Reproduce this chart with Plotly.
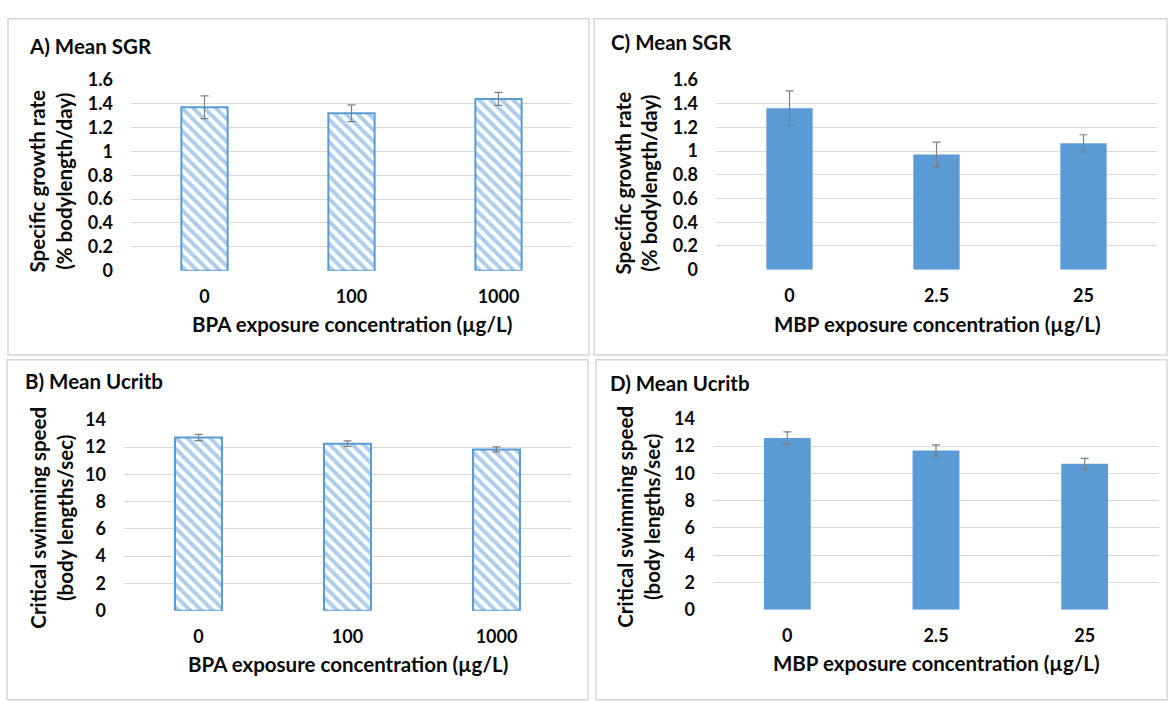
import plotly.graph_objects as go

W, H = 1168, 702

# ---- data ----
bpa_categories = ["0", "100", "1000"]
mbp_categories = ["0", "2.5", "25"]

bpa_sgr = [1.37, 1.32, 1.44]
bpa_sgr_err = [0.095, 0.07, 0.055]

mbp_sgr = [1.36, 0.97, 1.065]
mbp_sgr_err = [0.147, 0.105, 0.072]

bpa_ucrit = [12.7, 12.25, 11.83]
bpa_ucrit_err = [0.23, 0.2, 0.18]

mbp_ucrit = [12.6, 11.67, 10.7]
mbp_ucrit_err = [0.45, 0.42, 0.4]

sgr_ticks = [0, 0.2, 0.4, 0.6, 0.8, 1, 1.2, 1.4, 1.6]
ucrit_ticks = [0, 2, 4, 6, 8, 10, 12, 14]

BLUE = "#5B9BD5"
ERR = "#7f7f7f"
GRID = "#d9d9d9"
BORDER = "#d6d6d6"
TXT = "#0a0a0a"
FONT = "Lato"


def px(x):
    return x / W


def py(y):
    return 1 - y / H


fig = go.Figure()

panels = [
    # (axis suffix, cats, vals, errs, hatched, ticks, range, xdom px, ydom px)
    ("", bpa_categories, bpa_sgr, bpa_sgr_err, True, sgr_ticks, [0, 1.6], (131, 572), (267, 70)),
    ("2", mbp_categories, mbp_sgr, mbp_sgr_err, False, sgr_ticks, [0, 1.6], (716, 1157), (266, 70)),
    ("3", bpa_categories, bpa_ucrit, bpa_ucrit_err, True, ucrit_ticks, [0, 14], (124, 571), (618, 421)),
    ("4", mbp_categories, mbp_ucrit, mbp_ucrit_err, False, ucrit_ticks, [0, 14], (713, 1159), (617, 420)),
]

layout = {}
for suf, cats, vals, errs, hatched, ticks, rng, xd, yd in panels:
    if hatched:
        marker = dict(
            color="white",
            line=dict(color=BLUE, width=2),
            pattern=dict(shape="\\", fgcolor=BLUE, bgcolor="white", size=8, solidity=0.5),
        )
    else:
        marker = dict(color=BLUE, line=dict(color=BLUE, width=0))
    fig.add_trace(go.Bar(
        x=cats, y=vals, width=0.315,
        marker=marker,
        error_y=dict(type="data", array=errs, visible=True, color=ERR, thickness=1.2, width=4),
        xaxis="x" + suf, yaxis="y" + suf, showlegend=False,
    ))
    layout["xaxis" + suf] = dict(
        domain=[px(xd[0]), px(xd[1])], anchor="y" + suf, type="category",
        showgrid=False, showline=False, zeroline=False, ticks="",
        tickfont=dict(family=FONT, size=18, color=TXT, weight="bold"),
        ticklabelstandoff=13, fixedrange=True,
    )
    layout["yaxis" + suf] = dict(
        domain=[py(yd[0]), py(yd[1])], anchor="x" + suf, range=rng,
        tickvals=ticks, ticktext=[f"{t:g}" for t in ticks],
        showgrid=True, gridcolor=GRID, gridwidth=1, zeroline=False, showline=False,
        ticks="", tickfont=dict(family=FONT, size=18, color=TXT, weight="bold"),
        ticklabelstandoff=17, fixedrange=True,
    )

fig.update_layout(**layout)

# panel frames
boxes = [(8, 7, 589, 354), (594, 7, 1167, 354), (7, 359, 588, 710), (596, 359, 1167, 710)]
shapes = []
for x0, y0, x1, y1 in boxes:
    shapes.append(dict(type="rect", xref="paper", yref="paper",
                       x0=px(x0), x1=px(x1), y0=py(y1), y1=py(y0),
                       line=dict(color=BORDER, width=1.5), fillcolor="rgba(0,0,0,0)", layer="below"))

annotations = []
# panel titles
titles = [("A) Mean SGR", 27, 35), ("C) Mean SGR", 609, 31),
          ("B) Mean Ucritb", 23, 381), ("D) Mean Ucritb", 608, 383)]
for t, x, y in titles:
    annotations.append(dict(text=t, x=px(x), y=py(y), xref="paper", yref="paper",
                            xanchor="left", yanchor="middle", showarrow=False,
                            font=dict(family=FONT, size=20.5, color=TXT, weight="bold")))

# x axis titles
xtitles = [("BPA exposure concentration (µg/L)", 352, 322),
           ("MBP exposure concentration (µg/L)", 937, 322),
           ("BPA exposure concentration (µg/L)", 348, 673),
           ("MBP exposure concentration (µg/L)", 936, 672)]
for t, x, y in xtitles:
    annotations.append(dict(text=t, x=px(x), y=py(y), xref="paper", yref="paper",
                            xanchor="center", yanchor="middle", showarrow=False,
                            font=dict(family=FONT, size=20.5, color=TXT, weight="bold")))

# y axis titles
ytitles = [("Specific growth rate<br>(% bodylength/day)", 51, 175),
           ("Specific growth rate<br>(% bodylength/day)", 636, 177),
           ("Critical swimming speed<br>(body lengths/sec)", 52, 522),
           ("Critical swimming speed<br>(body lengths/sec)", 639, 521)]
for t, x, y in ytitles:
    annotations.append(dict(text=t, x=px(x), y=py(y), xref="paper", yref="paper",
                            xanchor="center", yanchor="middle", showarrow=False, textangle=-90,
                            font=dict(family=FONT, size=20.5, color=TXT, weight="bold")))

fig.update_layout(
    width=W, height=H, margin=dict(l=0, r=0, t=0, b=0),
    paper_bgcolor="white", plot_bgcolor="white",
    shapes=shapes, annotations=annotations, bargap=0.3,
)

fig.write_html("out.html", config={"displayModeBar": False})
